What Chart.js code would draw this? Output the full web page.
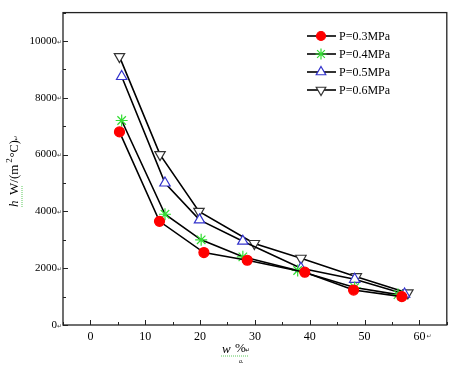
<!DOCTYPE html>
<html>
<head>
<meta charset="utf-8">
<script src="https://cdn.jsdelivr.net/npm/chart.js@4.4.0/dist/chart.umd.min.js"></script>
<style>
  body { margin: 0; background: #fff; }
  canvas { display: block; }
</style>
</head>
<body>
<canvas id="grafico" width="454" height="369"></canvas>
<script>
// dados
const rotulos = ["P=0.3MPa", "P=0.4MPa", "P=0.5MPa", "P=0.6MPa"];
const xP03 = [5.3, 12.6, 20.7, 28.6, 39.1, 48.0, 56.8];
const yP03 = [6800, 3650, 2550, 2280, 1860, 1230, 1000];
const xP04 = [5.7, 13.6, 20.2, 27.8, 37.8, 48.2, 56.1];
const yP04 = [7200, 3900, 3000, 2400, 1920, 1320, 1070];
const xP05 = [5.7, 13.6, 19.9, 27.8, 38.4, 48.2, 57.3];
const yP05 = [8750, 5000, 3700, 2950, 2000, 1610, 1090];
const xP06 = [5.3, 12.7, 19.8, 29.9, 38.4, 48.5, 57.9];
const yP06 = [9450, 6000, 4000, 2870, 2350, 1700, 1130];
const ticksX = [0, 10, 20, 30, 40, 50, 60];
const ticksY = [0, 2000, 4000, 6000, 8000, 10000];

const fonte = "Liberation Serif";

function pontos(xs, ys) {
    return xs.map((x, i) => ({ x: x, y: ys[i] }));
}

const estilos = [
    { pointStyle: "circle", pointRadius: 5, pointBackgroundColor: "#ff0000", pointBorderColor: "#ff0000", pointRotation: 0 },
    { pointStyle: "star", pointRadius: 6, pointBackgroundColor: "#33dd33", pointBorderColor: "#33dd33", pointRotation: 0 },
    { pointStyle: "triangle", pointRadius: 6, pointBackgroundColor: "#ffffff", pointBorderColor: "#3333cc", pointRotation: 0 },
    { pointStyle: "triangle", pointRadius: 6, pointBackgroundColor: "#ffffff", pointBorderColor: "#333333", pointRotation: 180 }
];

const series = [pontos(xP03, yP03), pontos(xP04, yP04), pontos(xP05, yP05), pontos(xP06, yP06)];

const datasets = series.map((d, i) => Object.assign({
    label: rotulos[i],
    data: d,
    borderColor: "#000",
    borderWidth: 1.6,
    pointBorderWidth: 1.2,
    tension: 0
}, estilos[i]));

// ticks para dentro, legenda e titulos dos eixos
const extras = {
    id: "extras",
    afterDraw(chart) {
        const ctx = chart.ctx;
        const area = chart.chartArea;
        const sx = chart.scales.x;
        const sy = chart.scales.y;
        ctx.save();
        ctx.strokeStyle = "#222";
        ctx.lineWidth = 1.3;
        ctx.strokeRect(area.left, area.top, area.right - area.left, area.bottom - area.top);

        ctx.lineWidth = 1;
        ctx.beginPath();
        for (let v = -5; v <= 65; v += 5) {
            const px = Math.round(sx.getPixelForValue(v)) + 0.5;
            const len = v % 10 === 0 ? 5 : 3;
            ctx.moveTo(px, area.bottom);
            ctx.lineTo(px, area.bottom - len);
        }
        for (let v = 0; v <= 11000; v += 1000) {
            const py = Math.round(sy.getPixelForValue(v)) + 0.5;
            const len = v % 2000 === 0 ? 5 : 3;
            ctx.moveTo(area.left, py);
            ctx.lineTo(area.left + len, py);
        }
        ctx.stroke();

        // marcas de paragrafo pequenas
        ctx.fillStyle = "#444";
        ctx.font = "6px 'DejaVu Sans'";
        ctx.textBaseline = "middle";
        ctx.textAlign = "left";
        ticksY.forEach(v => ctx.fillText("\u21b5", 57, sy.getPixelForValue(v) + 1));
        ctx.fillText("\u21b5", sx.getPixelForValue(60) + 7, 336);

        // legenda
        ctx.font = "12px '" + fonte + "'";
        datasets.forEach((ds, i) => {
            const ly = 36 + i * 18;
            ctx.strokeStyle = "#000";
            ctx.lineWidth = 1.6;
            ctx.beginPath();
            ctx.moveTo(307, ly);
            ctx.lineTo(336, ly);
            ctx.stroke();
            ctx.fillStyle = ds.pointBackgroundColor;
            ctx.strokeStyle = ds.pointBorderColor;
            ctx.lineWidth = 1.2;
            Chart.helpers.drawPoint(ctx, {
                pointStyle: ds.pointStyle,
                radius: ds.pointRadius - 0.5,
                rotation: ds.pointRotation,
                borderWidth: 1.2
            }, 321, ly);
            ctx.fillStyle = "#000";
            ctx.textAlign = "left";
            ctx.fillText(ds.label, 339, ly + 1);
        });

        // titulo do eixo y
        ctx.save();
        ctx.translate(15, 207);
        ctx.rotate(-Math.PI / 2);
        ctx.fillStyle = "#000";
        ctx.textBaseline = "middle";
        ctx.textAlign = "left";
        ctx.font = "italic 13px '" + fonte + "'";
        ctx.fillText("h", 0, 0);
        ctx.font = "13px '" + fonte + "'";
        ctx.fillText("W/(m", 12, 0);
        let w = 12 + ctx.measureText("W/(m").width + 2;
        ctx.font = "9px '" + fonte + "'";
        ctx.fillText("2", w, -5);
        w += ctx.measureText("2").width + 1;
        ctx.font = "12px '" + fonte + "'";
        ctx.fillText("\u00b0C)", w, 0);
        w += ctx.measureText("\u00b0C)").width;
        ctx.font = "6px 'DejaVu Sans'";
        ctx.fillText("\u21b5", w, 1);
        ctx.strokeStyle = "#33bb33";
        ctx.lineWidth = 0.8;
        ctx.setLineDash([1, 1]);
        ctx.beginPath();
        ctx.moveTo(0, 7);
        ctx.lineTo(22, 7);
        ctx.stroke();
        ctx.restore();

        // titulo do eixo x
        ctx.fillStyle = "#000";
        ctx.textBaseline = "middle";
        ctx.textAlign = "left";
        ctx.font = "italic 13px '" + fonte + "'";
        ctx.fillText("w", 222, 350);
        ctx.font = "13px '" + fonte + "'";
        ctx.fillText("%", 235, 349);
        ctx.font = "6px 'DejaVu Sans'";
        ctx.fillText("\u21b5", 245, 350);
        ctx.font = "italic 6px '" + fonte + "'";
        ctx.fillText("a.", 239, 361);
        ctx.strokeStyle = "#33bb33";
        ctx.lineWidth = 0.8;
        ctx.setLineDash([1, 1]);
        ctx.beginPath();
        ctx.moveTo(221, 356);
        ctx.lineTo(248, 356);
        ctx.stroke();
        ctx.restore();
    }
};

new Chart(document.getElementById("grafico"), {
    type: "line",
    data: { datasets: datasets },
    options: {
        responsive: false,
        animation: false,
        layout: { padding: { top: 7, right: 7, left: 0, bottom: 0 } },
        plugins: {
            legend: { display: false },
            tooltip: { enabled: false }
        },
        scales: {
            x: {
                type: "linear",
                min: -5,
                max: 65,
                grid: { display: false, drawTicks: false },
                border: { display: false },
                afterBuildTicks: s => { s.ticks = ticksX.map(v => ({ value: v })); },
                afterFit: s => { s.height = 44; },
                ticks: {
                    color: "#000",
                    padding: 5,
                    maxRotation: 0,
                    font: { family: fonte, size: 12 },
                    callback: v => String(v)
                }
            },
            y: {
                type: "linear",
                min: 0,
                max: 11000,
                grid: { display: false, drawTicks: false },
                border: { display: false },
                afterBuildTicks: s => { s.ticks = ticksY.map(v => ({ value: v })); },
                afterFit: s => { s.width = 63; },
                ticks: {
                    color: "#000",
                    padding: 6,
                    font: { family: fonte, size: 11 },
                    callback: v => String(v)
                }
            }
        }
    },
    plugins: [extras]
});
</script>
</body>
</html>
